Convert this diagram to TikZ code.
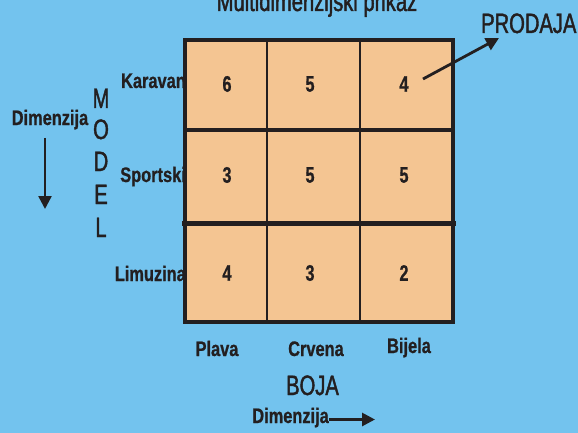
\documentclass[tikz,border=0pt]{standalone}
\usepackage{fontspec}
\setmainfont{Liberation Sans}
\newfontfamily\lblf{Liberation Sans Bold}[FakeStretch=0.78,FakeBold=0.8]
\newfontfamily\numf{Liberation Sans Bold}[FakeStretch=0.72,FakeBold=0.8]
\newfontfamily\bigf{Liberation Sans}[FakeStretch=0.72,FakeBold=1.5]
\usetikzlibrary{arrows.meta}
\definecolor{bgblue}{HTML}{73C3EE}
\definecolor{cellfill}{HTML}{F4C592}
\definecolor{ink}{HTML}{231F20}
\tikzset{
  lbl/.style={inner sep=0pt, text=ink, font=\lblf\fontsize{21}{21}\selectfont},
  num/.style={inner sep=0pt, text=ink, font=\numf\fontsize{22.5}{22.5}\selectfont},
  bigt/.style={inner sep=0pt, text=ink, font=\bigf\fontsize{28}{28}\selectfont},
  conn/.style={draw=ink, line width=2.8pt, -{Triangle[length=13pt,width=13pt]}},
}
\begin{document}
\begin{tikzpicture}[x=1pt,y=-1pt]
\useasboundingbox (0,0) rectangle (578,433);
\fill[bgblue] (0,0) rectangle (578,433);
% grid
\fill[cellfill] (185,40) rectangle (453,322);
\draw[ink, line width=2.2pt] (267,40) -- (267,322);
\draw[ink, line width=2.2pt] (360,40) -- (360,322);
\draw[ink, line width=3.2pt] (185,130) -- (453,130);
\draw[ink, line width=5pt] (182,223) -- (456,223);
\draw[ink, line width=3.6pt] (185,40) rectangle (453,322);
% numbers
\node[num] (n11) at (227,84) {6};
\node[num] (n12) at (310,84) {5};
\node[num] (n13) at (404,84) {4};
\node[num] (n21) at (227,175) {3};
\node[num] (n22) at (310,175) {5};
\node[num] (n23) at (404,175) {5};
\node[num] (n31) at (227,273) {4};
\node[num] (n32) at (310,273) {3};
\node[num] (n33) at (404,273) {2};
% row labels
\node[lbl, anchor=base east] (r1) at (186,88) {Karavan};
\node[lbl, anchor=base east] (r2) at (186,182) {Sportski};
\node[lbl, anchor=base east] (r3) at (186,281) {Limuzina};
% column labels
\node[lbl, anchor=base] (c1) at (217,356) {Plava};
\node[lbl, anchor=base] (c2) at (316,356) {Crvena};
\node[lbl, anchor=base] (c3) at (409,353) {Bijela};
% title and axis names
\node[bigt, anchor=base] (title) at (317,11) {Multidimenzijski prikaz};
\node[bigt, anchor=base west] (prod) at (481,33) {PRODAJA};
\node[bigt, anchor=base] (boja) at (312.5,395) {BOJA};
\node[bigt, anchor=base] (mM) at (101,108) {M};
\node[bigt, anchor=base] (mO) at (101,139) {O};
\node[bigt, anchor=base] (mD) at (101,171) {D};
\node[bigt, anchor=base] (mE) at (101,204) {E};
\node[bigt, anchor=base] (mL) at (101,237) {L};
% dimension labels
\node[lbl, anchor=base] (dimL) at (50,125) {Dimenzija};
\node[lbl, anchor=base east] (dimB) at (329,423) {Dimenzija};
% arrows
\coordinate (prodStart) at (423,79);
\coordinate (prodEnd) at (499,38);
\draw[conn] (prodStart) -- (prodEnd);
\coordinate (downStart) at (45,138);
\coordinate (downEnd) at (45,209);
\draw[conn, line width=2.4pt] (downStart) -- (downEnd);
\coordinate (rightEnd) at (375,419.5);
\draw[conn] (dimB.east |- rightEnd) -- (rightEnd);
\end{tikzpicture}
\end{document}
